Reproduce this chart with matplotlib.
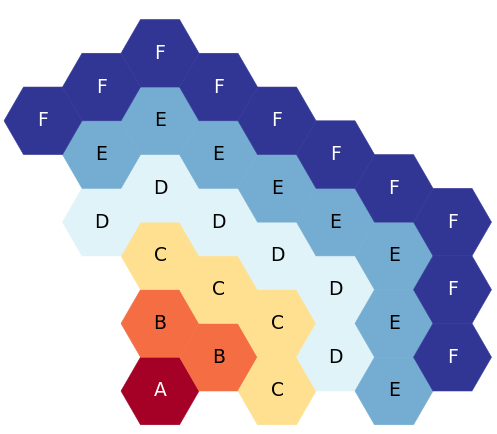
import numpy as np
import matplotlib
matplotlib.use("Agg")
import matplotlib.pyplot as plt
from matplotlib.patches import RegularPolygon

# hex cells: column index, half-row index (counted up from the bottom), label
cols   = [2,
          2, 3,
          2, 3, 4, 4,
          2, 1, 3, 4, 5, 5,
          2, 1, 3, 4, 5, 6, 6, 6,
          2, 1, 3, 0, 4, 5, 6, 7, 7, 7]
rows   = [0,
          2, 1,
          4, 3, 2, 0,
          6, 5, 5, 4, 3, 1,
          8, 7, 7, 6, 5, 4, 2, 0,
          10, 9, 9, 8, 8, 7, 6, 5, 3, 1]
labels = ["A",
          "B", "B",
          "C", "C", "C", "C",
          "D", "D", "D", "D", "D", "D",
          "E", "E", "E", "E", "E", "E", "E", "E",
          "F", "F", "F", "F", "F", "F", "F", "F", "F", "F"]

level_colors = {"A": "#a50026", "B": "#f46d43", "C": "#fee090",
                "D": "#e0f3f8", "E": "#74add1", "F": "#313695"}
text_colors  = {"A": "white", "B": "black", "C": "black",
                "D": "black", "E": "black", "F": "white"}

fig = plt.figure(figsize=(4.97, 4.34), dpi=100)
ax = fig.add_axes([0, 0, 1, 1])

h = np.sqrt(3) / 2
for c, v, lab in zip(cols, rows, labels):
    x, y = 1.5 * c, v * h
    ax.add_patch(RegularPolygon((x, y), numVertices=6, radius=1.0,
                                orientation=np.pi / 6,
                                facecolor=level_colors[lab],
                                edgecolor=level_colors[lab], linewidth=0.4))
    ax.text(x, y, lab, ha="center", va="center", fontsize=13.5,
            color=text_colors[lab])

ax.set_xlim(-1.103, 11.641)
ax.set_ylim(-1.103, 10.026)
ax.set_aspect("equal")
ax.axis("off")

fig.savefig("out.png", dpi=100)
